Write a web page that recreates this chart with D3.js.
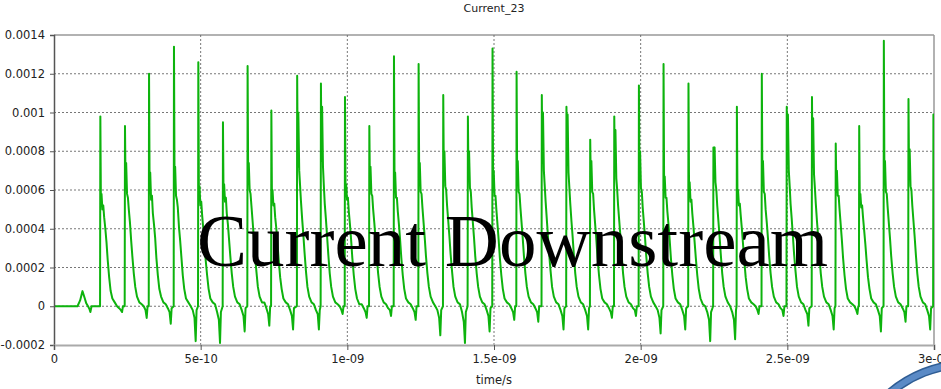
<!DOCTYPE html>
<html>
<head>
<meta charset="utf-8">
<script src="https://cdn.jsdelivr.net/npm/d3@7"></script>
<style>
  body { margin: 0; background: #fff; }
  svg { display: block; }
</style>
</head>
<body>
<div id="chart"></div>
<script>
// ---- data ----
// time of each pulse's rising edge (ns)
const riseTimes = [0.157, 0.241, 0.323, 0.408, 0.491, 0.575, 0.659, 0.740, 0.828, 0.909,
  0.991, 1.074, 1.158, 1.242, 1.326, 1.410, 1.494, 1.576, 1.662, 1.746,
  1.827, 1.909, 1.993, 2.077, 2.162, 2.247, 2.327, 2.412, 2.497, 2.583,
  2.664, 2.744, 2.828, 2.912, 2.997]

// sample times inside each pulse, after the rising edge (ps)
const pulseOffsets = [0, 1, 3, 5, 8, 11, 14, 18, 22, 26, 31, 36, 42, 50, 58, 65, 71, 75, 78]

// current at those sample times, one row per pulse (mA)
const pulseValues = [
  [0, .98, .52, .58, .50, .52, .46, .40, .33, .24, .15, .08, .04, .02, 0, -.01, -.02, -.03, 0],
  [0, .93, .62, .74, .58, .56, .50, .43, .34, .26, .17, .10, .05, .02, .01, 0, -.02, -.06, 0],
  [0, 1.20, .60, .69, .55, .57, .48, .42, .35, .25, .16, .09, .05, .02, .01, -.01, -.03, -.09, -.01],
  [0, 1.34, .64, .72, .57, .55, .51, .41, .34, .26, .16, .09, .04, .02, 0, -.02, -.06, -.18, -.02],
  [0, 1.26, .58, .62, .52, .54, .47, .40, .33, .24, .16, .09, .04, .02, .01, -.03, -.07, -.19, -.03],
  [0, .95, .57, .63, .54, .56, .48, .42, .34, .26, .17, .10, .05, .02, .01, -.02, -.05, -.13, -.01],
  [0, 1.24, .66, .74, .60, .58, .52, .44, .36, .27, .18, .10, .05, .02, .02, -.01, -.04, -.10, 0],
  [0, 1.01, .56, .60, .52, .53, .46, .40, .32, .24, .15, .09, .04, .02, .01, -.02, -.05, -.12, -.01],
  [0, 1.19, .72, 1.00, .70, .62, .54, .45, .37, .28, .18, .10, .05, .02, .01, -.02, -.04, -.12, -.02],
  [0, 1.15, .75, 1.03, .72, .62, .53, .45, .36, .27, .17, .10, .05, .02, .01, 0, -.02, -.04, 0],
  [0, 1.08, .58, .63, .55, .56, .49, .42, .34, .25, .16, .09, .04, .01, .01, -.01, -.03, -.06, 0],
  [0, .93, .62, .72, .58, .57, .50, .43, .35, .26, .17, .10, .05, .02, .01, -.01, -.02, -.05, 0],
  [0, 1.29, .63, .69, .56, .56, .49, .42, .34, .25, .16, .09, .04, .02, .01, -.01, -.03, -.07, 0],
  [0, 1.25, .66, .74, .59, .58, .51, .43, .35, .26, .17, .10, .05, .02, 0, -.02, -.06, -.15, -.02],
  [0, 1.09, .68, .80, .62, .60, .52, .44, .36, .27, .18, .10, .05, .02, .01, -.03, -.08, -.19, -.03],
  [0, .98, .66, .80, .61, .59, .51, .43, .35, .26, .17, .10, .05, .02, .01, -.02, -.05, -.13, -.01],
  [0, 1.33, .64, .70, .57, .57, .50, .42, .34, .25, .16, .09, .04, .02, .01, -.01, -.03, -.07, 0],
  [0, 1.21, .66, .75, .59, .58, .51, .43, .35, .26, .17, .10, .05, .02, .01, -.01, -.03, -.08, 0],
  [0, 1.09, .74, 1.00, .70, .62, .54, .45, .36, .27, .18, .10, .05, .02, .01, -.02, -.05, -.12, -.01],
  [0, 1.03, .73, .99, .69, .61, .53, .44, .36, .27, .17, .10, .05, .02, .01, -.02, -.05, -.12, -.01],
  [0, .86, .64, .75, .59, .58, .50, .42, .34, .25, .16, .09, .04, .02, .01, -.01, -.03, -.06, 0],
  [0, .98, .70, .91, .66, .60, .52, .44, .36, .27, .17, .10, .05, .02, .01, -.01, -.02, -.05, 0],
  [0, 1.14, .67, .80, .61, .59, .51, .43, .35, .26, .17, .10, .05, .02, 0, -.02, -.06, -.14, -.02],
  [0, 1.25, .61, .67, .56, .56, .49, .42, .34, .25, .16, .09, .04, .02, .01, -.02, -.05, -.12, -.01],
  [0, 1.15, .60, .64, .54, .55, .48, .41, .33, .25, .16, .09, .04, .01, 0, -.03, -.07, -.18, -.03],
  [0, .82, .70, .82, .64, .60, .52, .44, .36, .27, .17, .10, .05, .02, 0, -.03, -.07, -.17, -.02],
  [0, 1.03, .57, .60, .52, .53, .47, .40, .32, .24, .15, .09, .04, .02, .01, 0, -.02, -.04, 0],
  [0, 1.20, .65, .75, .59, .58, .50, .43, .35, .26, .17, .10, .05, .02, .01, -.01, -.02, -.05, 0],
  [0, 1.03, .74, .99, .70, .62, .53, .45, .36, .27, .18, .10, .05, .02, .01, -.02, -.04, -.10, -.01],
  [0, 1.08, .72, .97, .68, .61, .53, .44, .36, .27, .17, .10, .05, .02, .01, -.02, -.05, -.12, -.01],
  [0, .84, .63, .70, .57, .57, .50, .42, .34, .25, .16, .09, .04, .02, .01, 0, -.02, -.04, 0],
  [0, .93, .55, .58, .51, .52, .46, .39, .32, .24, .15, .09, .04, .02, .01, -.02, -.05, -.13, -.01],
  [0, 1.37, .66, .75, .59, .58, .51, .43, .35, .26, .17, .10, .05, .02, .01, -.01, -.03, -.08, 0],
  [0, 1.07, .68, .81, .62, .60, .52, .44, .36, .27, .17, .10, .05, .02, .01, -.02, -.05, -.12, -.01],
  [0, .99, .68, .80, .62, .60, .52, .44, .36, .27, .17, .10, .05, .02, .01, -.02, -.05, -.12, -.01]
]

// quiet start with the small bump before the first pulse (ns, mA)
const leadIn = [[0, 0], [0.080, 0], [0.089, 0.03], [0.097, 0.078], [0.104, 0.045], [0.110, 0.015],
  [0.116, 0], [0.121, -0.015], [0.124, -0.03], [0.128, 0], [0.150, 0]]

const xTickValues = [0, 5e-10, 1e-9, 1.5e-9, 2e-9, 2.5e-9, 3e-9]
const xTickLabels = ["0", "5e-10", "1e-09", "1.5e-09", "2e-09", "2.5e-09", "3e-09"]
const yTickValues = [-0.0002, 0, 0.0002, 0.0004, 0.0006, 0.0008, 0.001, 0.0012, 0.0014]
const yTickLabels = ["-0.0002", "0", "0.0002", "0.0004", "0.0006", "0.0008", "0.001", "0.0012", "0.0014"]

// ---- series in seconds / amperes ----
const series = leadIn.map(([t, v]) => ({ t: t * 1e-9, v: v * 1e-3 }))
  .concat(pulseValues.flatMap((row, i) =>
    row.map((v, j) => ({ t: (riseTimes[i] + pulseOffsets[j] / 1000) * 1e-9, v: v * 1e-3 }))))

// ---- layout ----
const width = 941, height = 389
const plot = { left: 54, right: 934, top: 35, bottom: 345 }

const x = d3.scaleLinear().domain([0, 3e-9]).range([plot.left, plot.right])
const y = d3.scaleLinear().domain([-0.0002, 0.0014]).range([plot.bottom, plot.top])

const svg = d3.select("#chart").append("svg")
  .attr("width", width)
  .attr("height", height)
  .style("font-family", "'DejaVu Sans', Verdana, sans-serif")

svg.append("defs").append("clipPath").attr("id", "plot-clip")
  .append("rect")
  .attr("x", plot.left).attr("y", plot.top - 2)
  .attr("width", plot.right - plot.left).attr("height", plot.bottom - plot.top + 4)

// grid (dotted)
svg.append("g")
  .selectAll("line")
  .data(yTickValues.filter(d => d > -0.0002 && d < 0.0014))
  .join("line")
  .attr("x1", plot.left).attr("x2", plot.right)
  .attr("y1", d => y(d)).attr("y2", d => y(d))
  .attr("stroke", "#777").attr("stroke-width", 1).attr("stroke-dasharray", "2,2")

svg.append("g")
  .selectAll("line")
  .data(xTickValues.filter(d => d > 0 && d < 3e-9))
  .join("line")
  .attr("x1", d => x(d)).attr("x2", d => x(d))
  .attr("y1", plot.top).attr("y2", plot.bottom)
  .attr("stroke", "#777").attr("stroke-width", 1).attr("stroke-dasharray", "2,2")

// frame top / right
svg.append("line")
  .attr("x1", plot.left).attr("x2", plot.right)
  .attr("y1", plot.top).attr("y2", plot.top)
  .attr("stroke", "#666").attr("stroke-width", 1.2)
svg.append("line")
  .attr("x1", plot.right).attr("x2", plot.right)
  .attr("y1", plot.top).attr("y2", plot.bottom)
  .attr("stroke", "#999").attr("stroke-width", 1.5)

// the waveform
const line = d3.line().x(d => x(d.t)).y(d => y(d.v))
svg.append("path")
  .datum(series)
  .attr("clip-path", "url(#plot-clip)")
  .attr("fill", "none")
  .attr("stroke", "#0db30d")
  .attr("stroke-width", 2)
  .attr("stroke-linejoin", "round")
  .attr("d", line)

// axes
const yAxis = svg.append("g")
  .attr("transform", `translate(${plot.left},0)`)
  .call(d3.axisLeft(y).tickValues(yTickValues)
    .tickFormat((d, i) => yTickLabels[i]).tickSize(4).tickPadding(5))
yAxis.select(".domain").attr("stroke", "#555").attr("stroke-width", 1.5)

const xAxis = svg.append("g")
  .attr("transform", `translate(0,${plot.bottom})`)
  .call(d3.axisBottom(x).tickValues(xTickValues)
    .tickFormat((d, i) => xTickLabels[i]).tickSize(5).tickPadding(5))
xAxis.select(".domain").attr("stroke", "#aaa").attr("stroke-width", 2)

svg.selectAll(".tick line").attr("stroke", "#555")
svg.selectAll(".tick text").attr("fill", "#222").style("font-size", "11.5px")
svg.selectAll("g .tick text").style("font-family", "'DejaVu Sans', Verdana, sans-serif")

// titles
svg.append("text")
  .attr("x", (plot.left + plot.right) / 2).attr("y", 12)
  .attr("text-anchor", "middle")
  .style("font-size", "11px").attr("fill", "#222")
  .text("Current_23")

svg.append("text")
  .attr("x", (plot.left + plot.right) / 2).attr("y", 384)
  .attr("text-anchor", "middle")
  .style("font-size", "11.5px").attr("fill", "#222")
  .text("time/s")

// overlay caption
svg.append("text")
  .attr("x", 197).attr("y", 266)
  .style("font-family", "'Liberation Serif', 'Times New Roman', serif")
  .style("font-size", "75px")
  .attr("fill", "#000")
  .text("Current Downstream")

// blue ring peeking in at bottom right
svg.append("circle")
  .attr("cx", 968).attr("cy", 484).attr("r", 120)
  .attr("fill", "none").attr("stroke", "#2f5d94").attr("stroke-width", 9)
svg.append("circle")
  .attr("cx", 968).attr("cy", 484).attr("r", 120)
  .attr("fill", "none").attr("stroke", "#5a8ac6").attr("stroke-width", 6)
</script>
</body>
</html>
